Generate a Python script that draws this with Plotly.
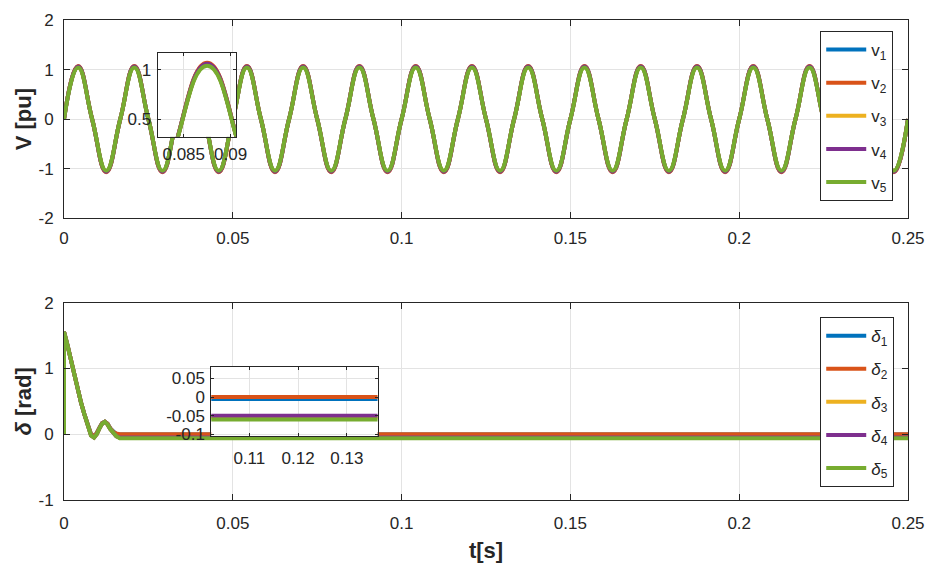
import plotly.graph_objects as go

# ---------------- data ----------------
t_v = [0.0, 0.00417, 0.00833, 0.0125, 0.01667, 0.02083, 0.025, 0.02917, 0.03333, 0.0375,
       0.04167, 0.04583, 0.05, 0.05417, 0.05833, 0.0625, 0.06667, 0.07083, 0.075, 0.07917,
       0.08333, 0.0875, 0.09167, 0.09583, 0.1, 0.10417, 0.10833, 0.1125, 0.11667, 0.12083,
       0.125, 0.12917, 0.13333, 0.1375, 0.14167, 0.14583, 0.15, 0.15417, 0.15833, 0.1625,
       0.16667, 0.17083, 0.175, 0.17917, 0.18333, 0.1875, 0.19167, 0.19583, 0.2, 0.20417,
       0.20833, 0.2125, 0.21667, 0.22083, 0.225, 0.22917, 0.23333, 0.2375, 0.24167, 0.24583,
       0.25]

v1 = [0, 1.06, 0, -1.06, 0, 1.06, 0, -1.06, 0, 1.06, 0, -1.06, 0, 1.06, 0, -1.06,
      0, 1.06, 0, -1.06, 0, 1.06, 0, -1.06, 0, 1.06, 0, -1.06, 0, 1.06, 0, -1.06,
      0, 1.06, 0, -1.06, 0, 1.06, 0, -1.06, 0, 1.06, 0, -1.06, 0, 1.06, 0, -1.06,
      0, 1.06, 0, -1.06, 0, 1.06, 0, -1.06, 0, 1.06, 0, -1.06, 0]
v2 = [0, 1.07, 0, -1.07, 0, 1.07, 0, -1.07, 0, 1.07, 0, -1.07, 0, 1.07, 0, -1.07,
      0, 1.07, 0, -1.07, 0, 1.07, 0, -1.07, 0, 1.07, 0, -1.07, 0, 1.07, 0, -1.07,
      0, 1.07, 0, -1.07, 0, 1.07, 0, -1.07, 0, 1.07, 0, -1.07, 0, 1.07, 0, -1.07,
      0, 1.07, 0, -1.07, 0, 1.07, 0, -1.07, 0, 1.07, 0, -1.07, 0]
v3 = [0, 1.05, 0, -1.05, 0, 1.05, 0, -1.05, 0, 1.05, 0, -1.05, 0, 1.05, 0, -1.05,
      0, 1.05, 0, -1.05, 0, 1.05, 0, -1.05, 0, 1.05, 0, -1.05, 0, 1.05, 0, -1.05,
      0, 1.05, 0, -1.05, 0, 1.05, 0, -1.05, 0, 1.05, 0, -1.05, 0, 1.05, 0, -1.05,
      0, 1.05, 0, -1.05, 0, 1.05, 0, -1.05, 0, 1.05, 0, -1.05, 0]
v4 = [0, 1.06, 0, -1.06, 0, 1.06, 0, -1.06, 0, 1.06, 0, -1.06, 0, 1.06, 0, -1.06,
      0, 1.06, 0, -1.06, 0, 1.06, 0, -1.06, 0, 1.06, 0, -1.06, 0, 1.06, 0, -1.06,
      0, 1.06, 0, -1.06, 0, 1.06, 0, -1.06, 0, 1.06, 0, -1.06, 0, 1.06, 0, -1.06,
      0, 1.06, 0, -1.06, 0, 1.06, 0, -1.06, 0, 1.06, 0, -1.06, 0]
v5 = [0, 1.04, 0, -1.04, 0, 1.04, 0, -1.04, 0, 1.04, 0, -1.04, 0, 1.04, 0, -1.04,
      0, 1.04, 0, -1.04, 0, 1.04, 0, -1.04, 0, 1.04, 0, -1.04, 0, 1.04, 0, -1.04,
      0, 1.04, 0, -1.04, 0, 1.04, 0, -1.04, 0, 1.04, 0, -1.04, 0, 1.04, 0, -1.04,
      0, 1.04, 0, -1.04, 0, 1.04, 0, -1.04, 0, 1.04, 0, -1.04, 0]

t_d = [0, 0, 0.001, 0.002, 0.003, 0.004, 0.005, 0.006, 0.007, 0.008, 0.0089, 0.0097,
       0.0105, 0.0113, 0.0121, 0.0129, 0.0137, 0.0145, 0.0155, 0.0165, 0.25]
d1 = [0, 1.56, 1.36, 1.13, 0.91, 0.69, 0.49, 0.31, 0.14, 0.0, -0.03, 0.02,
      0.1, 0.17, 0.19, 0.16, 0.09, 0.04, 0.0, -0.005, -0.005]
d2 = [0, 1.56, 1.36, 1.13, 0.91, 0.69, 0.49, 0.31, 0.14, 0.0, -0.03, 0.02,
      0.1, 0.17, 0.19, 0.16, 0.09, 0.04, 0.01, 0.0, 0.0]
d3 = [0, 1.56, 1.36, 1.13, 0.91, 0.69, 0.49, 0.31, 0.14, -0.02, -0.05, 0.0,
      0.09, 0.16, 0.19, 0.15, 0.08, 0.02, -0.03, -0.055, -0.055]
d4 = [0, 1.56, 1.36, 1.13, 0.91, 0.69, 0.49, 0.31, 0.14, -0.02, -0.05, 0.0,
      0.09, 0.16, 0.19, 0.15, 0.08, 0.02, -0.03, -0.05, -0.05]
d5 = [0, 1.56, 1.36, 1.13, 0.91, 0.69, 0.49, 0.31, 0.14, -0.02, -0.05, 0.0,
      0.09, 0.16, 0.19, 0.15, 0.08, 0.02, -0.03, -0.06, -0.06]

v_names = ["v<sub>1</sub>", "v<sub>2</sub>", "v<sub>3</sub>", "v<sub>4</sub>", "v<sub>5</sub>"]
d_names = ["<i>δ</i><sub>1</sub>", "<i>δ</i><sub>2</sub>", "<i>δ</i><sub>3</sub>",
           "<i>δ</i><sub>4</sub>", "<i>δ</i><sub>5</sub>"]
colors = ["#0072BD", "#D95319", "#EDB120", "#7E2F8E", "#77AC30"]

x_ticks = [0, 0.05, 0.1, 0.15, 0.2, 0.25]
x_ticktext = ["0", "0.05", "0.1", "0.15", "0.2", "0.25"]
v_ticks = [-2, -1, 0, 1, 2]
v_ticktext = ["-2", "-1", "0", "1", "2"]
d_ticks = [-1, 0, 1, 2]
d_ticktext = ["-1", "0", "1", "2"]
v_inset_xticks = [0.085, 0.09]
v_inset_xtext = ["0.085", "0.09"]
v_inset_yticks = [0.5, 1]
v_inset_ytext = ["0.5", "1"]
d_inset_xticks = [0.11, 0.12, 0.13]
d_inset_xtext = ["0.11", "0.12", "0.13"]
d_inset_yticks = [-0.1, -0.05, 0, 0.05]
d_inset_ytext = ["-0.1", "-0.05", "0", "0.05"]

# ---------------- figure ----------------
fig = go.Figure()
LW = 4
v_series = [v1, v2, v3, v4, v5]
d_series = [d1, d2, d3, d4, d5]

for i, (vs, nm, c) in enumerate(zip(v_series, v_names, colors)):
    fig.add_trace(go.Scatter(x=t_v, y=vs, mode="lines", name=nm,
                             line=dict(color=c, width=LW, shape="spline", smoothing=1.3),
                             xaxis="x", yaxis="y", legend="legend", legendgroup="v%d" % i))
for i, (vs, c) in enumerate(zip(v_series, colors)):
    fig.add_trace(go.Scatter(x=t_v, y=vs, mode="lines", showlegend=False,
                             line=dict(color=c, width=LW, shape="spline", smoothing=1.3),
                             xaxis="x3", yaxis="y3"))
for i, (ds, nm, c) in enumerate(zip(d_series, d_names, colors)):
    fig.add_trace(go.Scatter(x=t_d, y=ds, mode="lines", name=nm,
                             line=dict(color=c, width=LW),
                             xaxis="x2", yaxis="y2", legend="legend2", legendgroup="d%d" % i))
for i, (ds, c) in enumerate(zip(d_series, colors)):
    fig.add_trace(go.Scatter(x=t_d, y=ds, mode="lines", showlegend=False,
                             line=dict(color=c, width=LW),
                             xaxis="x4", yaxis="y4"))

AX = "#262626"
GRID = "#e3e3e3"
FAM = "Liberation Sans, Arial, sans-serif"
TF = dict(family=FAM, size=17, color=AX)

def ax(**kw):
    d = dict(showline=True, linecolor=AX, linewidth=1, mirror="ticks", ticks="inside",
             ticklen=6, tickcolor=AX, showgrid=True, gridcolor=GRID, gridwidth=1,
             zeroline=False, tickfont=TF)
    d.update(kw)
    return d

TITLE_F = dict(family=FAM, size=22, color=AX)

fig.update_layout(
    width=936, height=573,
    margin=dict(l=64, r=24, t=11, b=73),
    paper_bgcolor="white", plot_bgcolor="white",
    font=TF,
    xaxis=ax(domain=[0, 1], anchor="y", range=[0, 0.25], tickvals=x_ticks, ticktext=x_ticktext,
             ticklabelstandoff=4),
    yaxis=ax(domain=[0.587, 1], anchor="x", range=[-2, 2], tickvals=v_ticks, ticktext=v_ticktext,
             ticklabelstandoff=6,
             title=dict(text="<b>V [pu]</b>", font=TITLE_F, standoff=0)),
    xaxis2=ax(domain=[0, 1], anchor="y2", range=[0, 0.25], tickvals=x_ticks, ticktext=x_ticktext,
              ticklabelstandoff=8,
              title=dict(text="<b>t[s]</b>", font=TITLE_F, standoff=10)),
    yaxis2=ax(domain=[0, 0.411], anchor="x2", range=[-1, 2], tickvals=d_ticks, ticktext=d_ticktext,
              ticklabelstandoff=6,
              title=dict(text="<b><i>δ</i> [rad]</b>", font=TITLE_F, standoff=0)),
    xaxis3=ax(domain=[0.1108, 0.204], anchor="y3", range=[0.0822, 0.0906],
              tickvals=v_inset_xticks, ticktext=v_inset_xtext, ticklen=3,
              ticklabelstandoff=2),
    yaxis3=ax(domain=[0.7566, 0.9305], anchor="x3", range=[0.32, 1.165],
              tickvals=v_inset_yticks, ticktext=v_inset_ytext, ticklen=3, ticklabelstandoff=2),
    xaxis4=ax(domain=[0.1745, 0.3715], anchor="y4", range=[0.1022, 0.1363],
              tickvals=d_inset_xticks, ticktext=d_inset_xtext, ticklen=3,
              ticklabelstandoff=6),
    yaxis4=ax(domain=[0.1329, 0.2781], anchor="x4", range=[-0.105, 0.082],
              tickvals=d_inset_yticks, ticktext=d_inset_ytext, ticklen=3,
              ticklabelstandoff=2),
    legend=dict(x=0.896, y=0.977, xanchor="left", yanchor="top", bgcolor="white",
                bordercolor=AX, borderwidth=1, font=dict(family=FAM, size=17, color=AX),
                tracegroupgap=8, traceorder="grouped", itemwidth=40),
    legend2=dict(x=0.896, y=0.381, xanchor="left", yanchor="top", bgcolor="white",
                 bordercolor=AX, borderwidth=1, font=dict(family=FAM, size=17, color=AX),
                 tracegroupgap=8, traceorder="grouped", itemwidth=40),
    showlegend=True,
)

fig.write_html("out.html")
